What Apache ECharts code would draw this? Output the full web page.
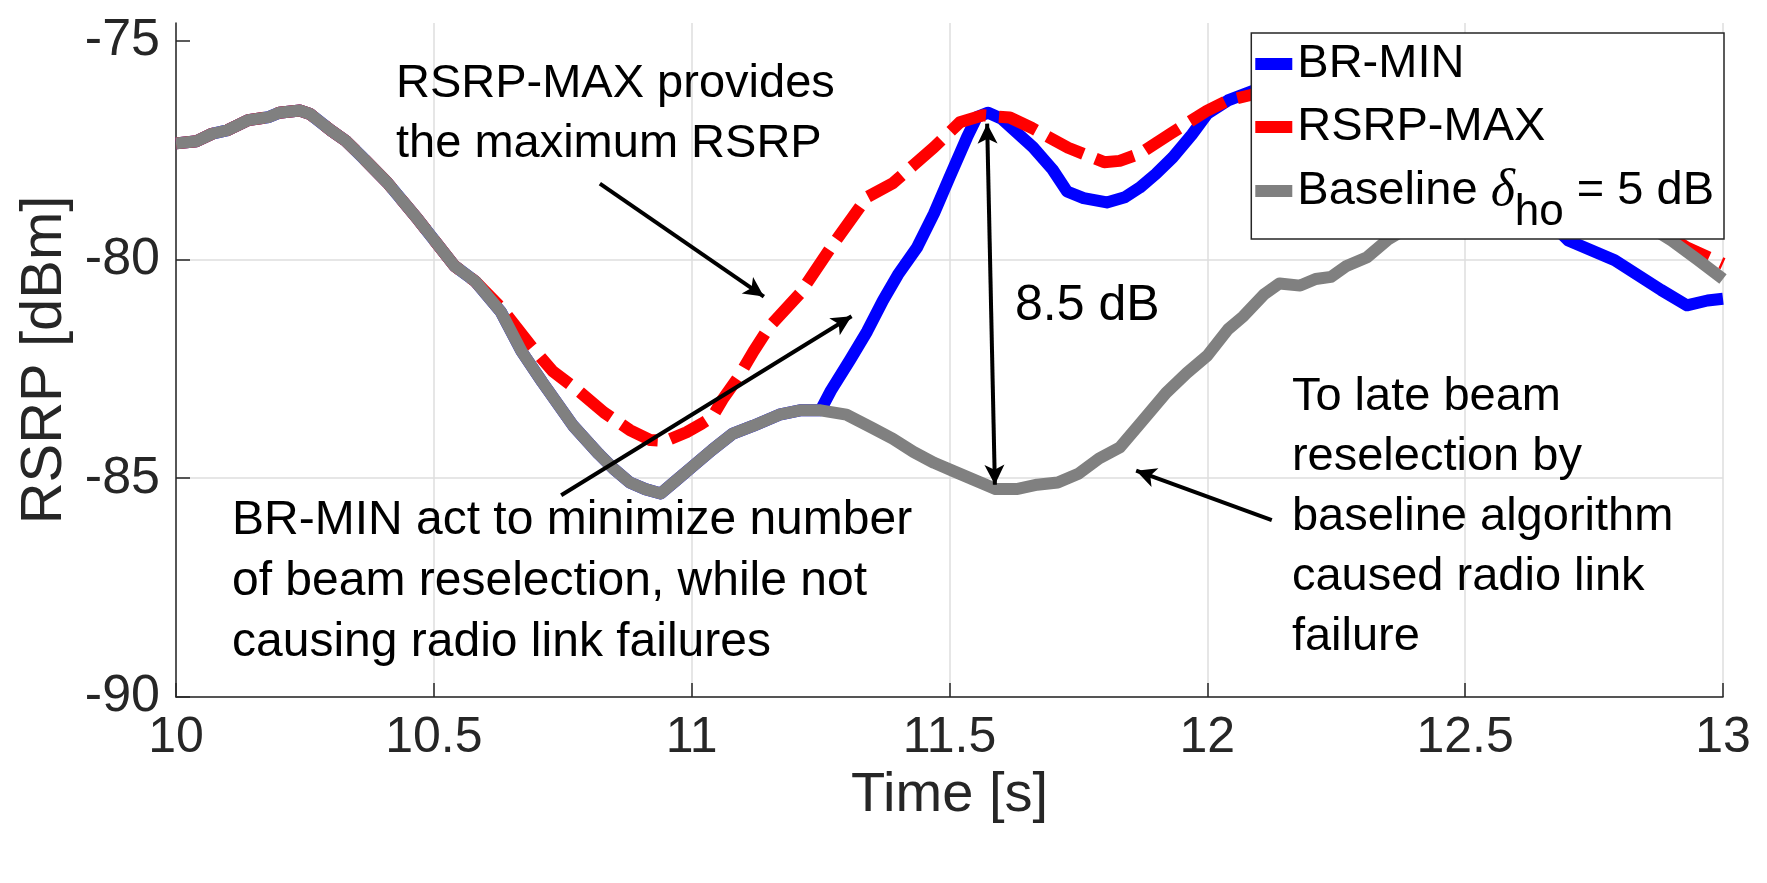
<!DOCTYPE html>
<html>
<head>
<meta charset="utf-8">
<script src="https://cdn.jsdelivr.net/npm/echarts@6/dist/echarts.min.js"></script>
<style>
html,body{margin:0;padding:0;background:#fff;}
#main{width:1767px;height:883px;}
</style>
</head>
<body>
<div id="main"></div>
<script>
const FONT = "'Liberation Sans', Arial, Helvetica, sans-serif";

// ---- data ----
const xTicks = [10, 10.5, 11, 11.5, 12, 12.5, 13];
const yTicks = [-90, -85, -80, -75];
const legendNames = ['BR-MIN', 'RSRP-MAX', 'Baseline'];

const baseTime = [10.00,10.04,10.07,10.10,10.14,10.18,10.20,10.24,10.26,10.30,10.33,10.36,10.41,10.47,10.54,10.58,10.63,10.67,10.71,10.77,10.82,10.85,10.88,10.91,10.94,10.97,11.00,11.04,11.08,11.12,11.17,11.21,11.25,11.30,11.35,11.39,11.43,11.47,11.51,11.55,11.59,11.63,11.67,11.71,11.75,11.79,11.83,11.87,11.92,11.96,12.00,12.04,12.07,12.11,12.14,12.18,12.21,12.24,12.27,12.31,12.35,12.40,12.47,12.55,12.63,12.70,12.78,12.85,12.90,12.95,13.00];
const baseRsrp = [-77.35,-77.30,-77.13,-77.05,-76.82,-76.75,-76.65,-76.60,-76.68,-77.05,-77.30,-77.65,-78.25,-79.10,-80.15,-80.50,-81.20,-82.10,-82.80,-83.80,-84.45,-84.80,-85.10,-85.25,-85.35,-85.05,-84.75,-84.35,-83.98,-83.80,-83.55,-83.45,-83.45,-83.55,-83.85,-84.10,-84.40,-84.65,-84.85,-85.05,-85.25,-85.25,-85.15,-85.10,-84.90,-84.55,-84.30,-83.75,-83.05,-82.60,-82.20,-81.60,-81.30,-80.80,-80.55,-80.60,-80.45,-80.40,-80.15,-79.95,-79.55,-79.20,-78.80,-78.50,-78.35,-78.45,-78.80,-79.20,-79.57,-80.00,-80.45];

const maxTime = [10.00,10.04,10.07,10.10,10.14,10.18,10.20,10.24,10.26,10.30,10.33,10.36,10.41,10.47,10.54,10.58,10.63,10.66,10.69,10.73,10.78,10.83,10.88,10.92,10.95,10.99,11.02,11.04,11.06,11.09,11.12,11.15,11.21,11.27,11.34,11.39,11.43,11.47,11.52,11.565,11.617,11.66,11.73,11.80,11.83,11.87,11.93,12.00,12.04,12.10,12.20,12.30,12.40,12.50,12.60,12.70,12.80,12.88,12.93,13.00];
const maxRsrp = [-77.35,-77.30,-77.13,-77.05,-76.82,-76.75,-76.65,-76.60,-76.68,-77.05,-77.30,-77.65,-78.25,-79.10,-80.15,-80.50,-81.10,-81.55,-82.00,-82.55,-83.00,-83.50,-83.90,-84.13,-84.15,-83.95,-83.75,-83.60,-83.20,-82.70,-82.10,-81.55,-80.78,-79.73,-78.58,-78.26,-77.85,-77.44,-76.87,-76.71,-76.76,-77.00,-77.45,-77.78,-77.75,-77.58,-77.12,-76.60,-76.37,-76.20,-76.05,-76.05,-76.25,-76.60,-77.20,-77.90,-78.70,-79.35,-79.73,-80.10];

const minTime = [10.00,10.04,10.07,10.10,10.14,10.18,10.20,10.24,10.26,10.30,10.33,10.36,10.41,10.47,10.54,10.58,10.63,10.67,10.71,10.77,10.82,10.85,10.88,10.91,10.94,10.97,11.00,11.04,11.08,11.12,11.17,11.21,11.25,11.27,11.307,11.34,11.371,11.40,11.437,11.47,11.50,11.534,11.553,11.575,11.60,11.662,11.70,11.728,11.76,11.805,11.84,11.869,11.90,11.933,11.97,12.00,12.04,12.10,12.20,12.30,12.40,12.50,12.60,12.70,12.79,12.88,12.93,12.97,13.00];
const minRsrp = [-77.35,-77.30,-77.13,-77.05,-76.82,-76.75,-76.65,-76.60,-76.68,-77.05,-77.30,-77.65,-78.25,-79.10,-80.15,-80.50,-81.20,-82.10,-82.80,-83.80,-84.45,-84.80,-85.10,-85.25,-85.35,-85.05,-84.75,-84.35,-83.98,-83.80,-83.55,-83.45,-83.45,-83.00,-82.30,-81.65,-80.94,-80.35,-79.73,-78.95,-78.13,-77.21,-76.75,-76.65,-76.78,-77.44,-77.95,-78.45,-78.60,-78.70,-78.58,-78.36,-78.05,-77.67,-77.15,-76.67,-76.37,-76.10,-76.00,-76.20,-76.70,-77.40,-78.40,-79.57,-80.02,-80.70,-81.05,-80.94,-80.90];

// ---- annotations (anchored in data coordinates) ----
const arrows = [
  {from: [10.822, -78.27], to: [11.140, -80.85], heads: ['none', 'arrow']},
  {from: [10.747, -85.39], to: [11.310, -81.30], heads: ['none', 'arrow']},
  {from: [11.573, -76.90], to: [11.588, -85.15], heads: ['arrow', 'arrow']},
  {from: [12.125, -85.96], to: [11.862, -84.83], heads: ['none', 'arrow']}
];
const notes = [
  {text: 'RSRP-MAX provides\nthe maximum RSRP', at: [10.4266, -75.31], size: 47, lh: 60},
  {text: '8.5 dB', at: [11.627, -80.38], size: 50, lh: 60},
  {text: 'BR-MIN act to minimize number\nof beam reselection, while not\ncausing radio link failures', at: [10.1086, -85.27], size: 48, lh: 61},
  {text: 'To late beam\nreselection by\nbaseline algorithm\ncaused radio link\nfailure', at: [12.164, -82.46], size: 47, lh: 60}
];

const pts = (t, v) => t.map((x, i) => [x, v[i]]);

const chart = echarts.init(document.getElementById('main'), null, {renderer: 'canvas'});

chart.setOption({
  animation: false,
  backgroundColor: '#ffffff',
  grid: {left: 176, right: 44, top: 23, bottom: 186, containLabel: false, outerBoundsMode: 'none'},
  xAxis: {
    type: 'value', min: 10, max: 13, interval: 0.5,
    name: 'Time [s]', nameLocation: 'middle', nameGap: 66,
    nameTextStyle: {fontFamily: FONT, fontSize: 56, color: '#262626'},
    axisLine: {show: true, onZero: false, lineStyle: {color: '#262626', width: 1.5}},
    axisTick: {show: true, inside: true, length: 14, lineStyle: {color: '#262626', width: 1.5}},
    axisLabel: {fontFamily: FONT, fontSize: 50, color: '#262626', margin: 16,
      formatter: v => (xTicks.indexOf(v) >= 0 ? String(v) : '')},
    splitLine: {show: true, lineStyle: {color: '#dedede', width: 1.5}}
  },
  yAxis: {
    type: 'value', min: -90, max: -74.6, interval: 5,
    name: 'RSRP [dBm]', nameLocation: 'middle', nameGap: 92, nameRotate: 90,
    nameTextStyle: {fontFamily: FONT, fontSize: 58, color: '#262626'},
    axisLine: {show: true, onZero: false, lineStyle: {color: '#262626', width: 1.5}},
    axisTick: {show: true, inside: true, length: 14, customValues: yTicks, lineStyle: {color: '#262626', width: 1.5}},
    axisLabel: {fontFamily: FONT, fontSize: 52, color: '#262626', margin: 16,
      formatter: v => (yTicks.indexOf(v) >= 0 ? String(v) : '')},
    splitLine: {show: true, showMaxLine: false, lineStyle: {color: '#dedede', width: 1.5}}
  },
  legend: {
    data: legendNames, orient: 'vertical', right: 43, top: 33,
    icon: 'rect', itemWidth: 37, itemHeight: 12, itemGap: 13,
    padding: [6, 10, 4, 4],
    borderColor: '#262626', borderWidth: 1.5, backgroundColor: '#ffffff', z: 10,
    selectedMode: false,
    textStyle: {
      fontFamily: FONT, fontSize: 47, color: '#000', lineHeight: 50,
      rich: {
        d: {fontFamily: "'Liberation Serif', 'Times New Roman', serif", fontStyle: 'italic', fontSize: 52, color: '#000', lineHeight: 50},
        s: {fontFamily: FONT, fontSize: 44, color: '#000', height: 6, lineHeight: 6, verticalAlign: 'bottom'}
      }
    },
    formatter: n => (n === 'Baseline' ? 'Baseline {d|δ}{s|ho} = 5 dB' : n)
  },
  series: [
    {
      name: 'BR-MIN', type: 'line', data: pts(minTime, minRsrp), z: 2,
      symbol: 'none', showSymbol: false, color: '#0000ff',
      lineStyle: {color: '#0000ff', width: 12, join: 'round'},
      emphasis: {disabled: true}
    },
    {
      name: 'RSRP-MAX', type: 'line', data: pts(maxTime, maxRsrp), z: 3,
      symbol: 'none', showSymbol: false, color: '#ff0000',
      lineStyle: {color: '#ff0000', width: 12, type: [40, 13], cap: 'butt', join: 'round'},
      emphasis: {disabled: true}
    },
    {
      name: 'Baseline', type: 'line', data: pts(baseTime, baseRsrp), z: 4,
      symbol: 'none', showSymbol: false, color: '#808080',
      lineStyle: {color: '#808080', width: 12, join: 'round'},
      emphasis: {disabled: true}
    },
    {
      type: 'line', data: [], z: 5, silent: true,
      markLine: {
        silent: true, animation: false,
        symbolSize: [15, 20],
        label: {show: false},
        emphasis: {disabled: true},
        lineStyle: {color: '#000', width: 4, type: 'solid'},
        data: arrows.map(a => [
          {coord: a.from, symbol: a.heads[0]},
          {coord: a.to, symbol: a.heads[1]}
        ])
      }
    }
  ]
});

chart.setOption({
  graphic: notes.map(n => {
    const p = chart.convertToPixel({gridIndex: 0}, n.at);
    return {
      type: 'text', x: p[0], y: p[1], z: 20, silent: true,
      style: {text: n.text, fill: '#000', fontFamily: FONT, fontSize: n.size,
        lineHeight: n.lh, align: 'left', verticalAlign: 'top'}
    };
  })
});
</script>
</body>
</html>
